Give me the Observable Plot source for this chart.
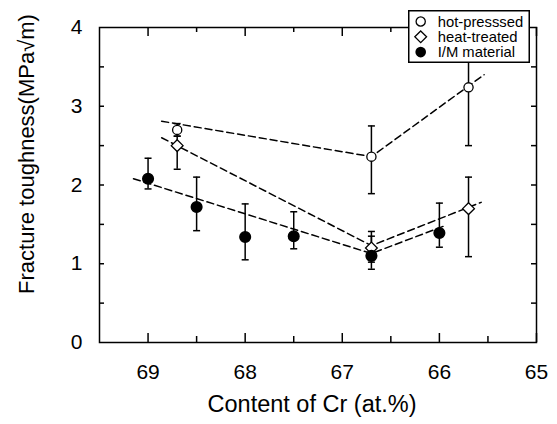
<!DOCTYPE html>
<html><head><meta charset="utf-8">
<script src="https://cdn.jsdelivr.net/npm/d3@7"></script>
<script src="https://cdn.jsdelivr.net/npm/@observablehq/plot@0.6"></script>
<style>
html,body{margin:0;padding:0;background:#fff;}
#wrap{position:relative;width:557px;height:424px;font-family:"Liberation Sans",Arial,sans-serif;}
#legend{position:absolute;left:408px;top:10px;}
</style></head><body><div id="wrap"></div>
<script>
// ---- data ----
const xMajorTicks = [69, 68, 67, 66, 65];
const xMinorTicks = [68.5, 67.5, 66.5, 65.5];
const yLabelTicks = [0, 1, 2, 3, 4];
const yAllTicks = [0.5, 1, 1.5, 2, 2.5, 3, 3.5];

const hotX  = [68.7, 66.7, 65.7];
const hotY  = [2.70, 2.36, 3.24];
const hotLo = [2.62, 1.89, 2.50];
const hotHi = [2.78, 2.75, 3.97];

const heatX  = [68.7, 66.7, 65.7];
const heatY  = [2.50, 1.20, 1.70];
const heatLo = [2.20, 1.02, 1.09];
const heatHi = [2.62, 1.41, 2.10];

const imX  = [69.0, 68.5, 68.0, 67.5, 66.7, 66.0];
const imY  = [2.08, 1.72, 1.34, 1.35, 1.10, 1.39];
const imLo = [1.95, 1.42, 1.05, 1.19, 0.93, 1.21];
const imHi = [2.34, 2.10, 1.76, 1.66, 1.35, 1.77];

const hotFitX  = [68.86, 66.7, 65.54];
const hotFitY  = [2.81, 2.36, 3.40];
const heatFitX = [68.86, 66.7, 65.57];
const heatFitY = [2.60, 1.23, 1.78];
const imFitX   = [69.15, 66.7, 65.95];
const imFitY   = [2.08, 1.13, 1.48];

const seriesNames = ["hot-presssed", "heat-treated", "I/M material"];
const xTitle = "Content of Cr (at.%)";
const yTitle = "Fracture toughness(MPa√m)";

// ---- build tables ----
const rows = (X, Y, L, H) => X.map((x, i) => ({x, y: Y[i], lo: L[i], hi: H[i]}));
const pts = (X, Y) => X.map((x, i) => ({x, y: Y[i]}));
const hot = rows(hotX, hotY, hotLo, hotHi);
const heat = rows(heatX, heatY, heatLo, heatHi);
const im = rows(imX, imY, imLo, imHi);
const allErr = [...hot, ...heat, ...im];

const W = 557, H = 424;
const mL = 99, mR = 21, mT = 27, mB = 82;
const plotW = W - mL - mR, plotH = H - mT - mB;

const cap = {draw(ctx, size) { const r = Math.sqrt(size / Math.PI); ctx.moveTo(-r, 0); ctx.lineTo(r, 0); }};
const dash = {stroke: "black", strokeWidth: 1.5, strokeDasharray: "7,4"};
const fmt = d => String(d);

const chart = Plot.plot({
  width: W, height: H,
  marginLeft: mL, marginRight: mR, marginTop: mT, marginBottom: mB,
  style: {fontFamily: "'Liberation Sans', Arial, sans-serif", fontSize: "21px", color: "black", background: "white"},
  x: {domain: [69.5, 65], axis: null},
  y: {domain: [0, 4], axis: null},
  marks: [
    Plot.line(pts(hotFitX, hotFitY), {x: "x", y: "y", ...dash}),
    Plot.line(pts(heatFitX, heatFitY), {x: "x", y: "y", ...dash}),
    Plot.line(pts(imFitX, imFitY), {x: "x", y: "y", ...dash}),
    Plot.ruleX(allErr, {x: "x", y1: "lo", y2: "hi", stroke: "black", strokeWidth: 1.5}),
    Plot.dot(allErr, {x: "x", y: "lo", symbol: cap, r: 3.5, stroke: "black", strokeWidth: 1.5}),
    Plot.dot(allErr, {x: "x", y: "hi", symbol: cap, r: 3.5, stroke: "black", strokeWidth: 1.5}),
    Plot.dot(hot, {x: "x", y: "y", symbol: "circle", r: 4.6, fill: "white", stroke: "black", strokeWidth: 1.3}),
    Plot.dot(heat, {x: "x", y: "y", symbol: "diamond2", r: 5.3, fill: "white", stroke: "black", strokeWidth: 1.3}),
    Plot.dot(im, {x: "x", y: "y", symbol: "circle", r: 5.3, fill: "black", stroke: "black"}),
    Plot.frame({stroke: "black", strokeWidth: 1.5}),
    Plot.tickX(xMajorTicks, {x: d => d, insetTop: plotH - 9, stroke: "black", strokeWidth: 1.5}),
    Plot.tickX(xMinorTicks, {x: d => d, insetTop: plotH - 6, stroke: "black", strokeWidth: 1.5}),
    Plot.tickX(xMajorTicks, {x: d => d, insetBottom: plotH - 9, stroke: "black", strokeWidth: 1.5}),
    Plot.tickX(xMinorTicks, {x: d => d, insetBottom: plotH - 5, stroke: "black", strokeWidth: 1.5}),
    Plot.tickY(yAllTicks, {y: d => d, insetRight: plotW - 5, stroke: "black", strokeWidth: 1.5}),
    Plot.tickY(yAllTicks, {y: d => d, insetLeft: plotW - 5, stroke: "black", strokeWidth: 1.5}),
    Plot.text(xMajorTicks, {x: d => d, text: fmt, frameAnchor: "bottom", lineAnchor: "top", dy: 22, fontSize: 21, fill: "black"}),
    Plot.text(yLabelTicks, {y: d => d, text: fmt, frameAnchor: "left", textAnchor: "end", dx: -17, fontSize: 21, fill: "black"}),
    Plot.text([xTitle], {text: d => d, frameAnchor: "bottom", lineAnchor: "top", textAnchor: "middle", dy: 53, dx: -6, fontSize: 23.5}),
    Plot.text([yTitle], {text: d => d, frameAnchor: "left", textAnchor: "middle", lineAnchor: "middle", rotate: -90, dx: -73, dy: -31, fontSize: 22})
  ]
});
document.getElementById("wrap").appendChild(chart);

// ---- legend ----
const lg = d3.select("#wrap").append("svg").attr("id", "legend")
  .attr("width", 122).attr("height", 53)
  .style("font-family", "'Liberation Sans', Arial, sans-serif");
lg.append("rect").attr("x", 0.75).attr("y", 0.75).attr("width", 120.5).attr("height", 51.5)
  .attr("fill", "white").attr("stroke", "black").attr("stroke-width", 1.5);
const rowY = [11.5, 26.8, 42.1];
const sym = [
  g => g.append("circle").attr("r", 4.6).attr("fill", "white").attr("stroke", "black").attr("stroke-width", 1.3),
  g => g.append("path").attr("d", d3.symbol(d3.symbolDiamond2, Math.PI * 5.3 * 5.3)()).attr("fill", "white").attr("stroke", "black").attr("stroke-width", 1.3),
  g => g.append("circle").attr("r", 5.3).attr("fill", "black")
];
seriesNames.forEach((name, i) => {
  const g = lg.append("g").attr("transform", `translate(12.7,${rowY[i]})`);
  sym[i](g);
  lg.append("text").attr("x", 29.7).attr("y", rowY[i]).attr("dy", "0.35em")
    .attr("font-size", 14.8).attr("fill", "black").text(name);
});
</script></body></html>
